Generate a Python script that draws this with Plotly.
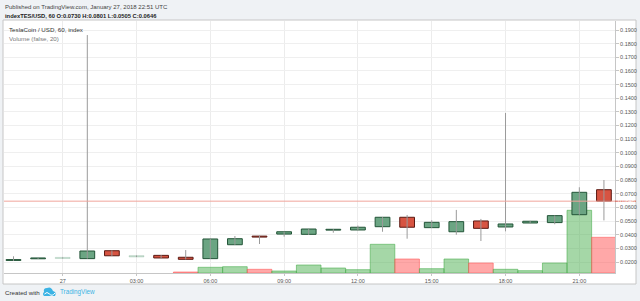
import plotly.graph_objects as go
import pandas as pd

# ---------------- data ----------------
hours = pd.date_range("2018-01-26 22:00", periods=25, freq="h")
opens  = [0.0212, 0.0224, 0.0226, 0.0225, 0.0283, 0.0237, 0.0249, 0.0235, 0.0225, 0.0327,
          0.0390, 0.0405, 0.0403, 0.0434, 0.0435, 0.0459, 0.0528, 0.0452, 0.0422, 0.0501,
          0.0457, 0.0486, 0.0489, 0.0547, 0.0730]
highs  = [0.0242, 0.0231, 0.0234, 0.1863, 0.0285, 0.0248, 0.0250, 0.0288, 0.0370, 0.0391,
          0.0392, 0.0423, 0.0443, 0.0441, 0.0467, 0.0529, 0.0545, 0.0506, 0.0582, 0.0516,
          0.1292, 0.0502, 0.0541, 0.0748, 0.0801]
lows   = [0.0208, 0.0223, 0.0226, 0.0225, 0.0245, 0.0237, 0.0229, 0.0219, 0.0224, 0.0326,
          0.0332, 0.0386, 0.0398, 0.0415, 0.0434, 0.0422, 0.0371, 0.0450, 0.0400, 0.0354,
          0.0425, 0.0485, 0.0477, 0.0546, 0.0505]
closes = [0.0218, 0.0230, 0.0234, 0.0281, 0.0246, 0.0247, 0.0230, 0.0220, 0.0369, 0.0371,
          0.0383, 0.0422, 0.0442, 0.0440, 0.0455, 0.0528, 0.0455, 0.0491, 0.0496, 0.0447,
          0.0479, 0.0499, 0.0540, 0.0711, 0.0646]
volumes = [0, 0, 0, 0, 0, 0, 0, 1000, 5700, 6300, 3700, 2000, 8000, 5000, 3300, 28700,
           14000, 4300, 14000, 10000, 3700, 2300, 10000, 62700, 35700]

tick_times = ["2018-01-27 00:00", "2018-01-27 03:00", "2018-01-27 06:00", "2018-01-27 09:00",
              "2018-01-27 12:00", "2018-01-27 15:00", "2018-01-27 18:00", "2018-01-27 21:00"]
tick_text = ["27", "03:00", "06:00", "09:00", "12:00", "15:00", "18:00", "21:00"]

title_line1 = "Published on TradingView.com, January 27, 2018 22:51 UTC"
title_line2 = "indexTES/USD, 60 O:0.0730 H:0.0801 L:0.0505 C:0.0646"
series_label = "TeslaCoin / USD, 60, index"
volume_label = "Volume (false, 20)"

# ---------------- layout constants ----------------
W, H = 640, 301
ML, MR, MT, MB = 4, 25, 21, 28
PW, PH = W - ML - MR, H - MT - MB
FADED = {2, 5}
HOUR_MS = 3600 * 1000
FONT = "Liberation Sans"

UP_FILL, UP_LINE = "#6ba583", "#225437"
DN_FILL, DN_LINE = "#d75442", "#5b1a13"


def px(x):
    return (x - ML) / PW


def py(y):
    return (H - MB - y) / PH


body_base, body_h, body_fill, body_line = [], [], [], []
for i, (o, c) in enumerate(zip(opens, closes)):
    lo, hi = min(o, c), max(o, c)
    body_base.append(lo)
    body_h.append(max(hi - lo, 0.0004))
    up = c >= o
    if i in FADED:
        body_fill.append("rgba(107,165,131,0.35)")
        body_line.append("rgba(107,165,131,0.25)")
    else:
        body_fill.append(UP_FILL if up else DN_FILL)
        body_line.append(UP_LINE if up else DN_LINE)

vol_fill, vol_line = [], []
for o, c, v in zip(opens, closes, volumes):
    up = c >= o
    vol_fill.append("rgba(76,175,80,0.5)" if up else "rgba(255,82,82,0.5)")
    if v == 0:
        vol_line.append("rgba(0,0,0,0)")
    else:
        vol_line.append("rgba(76,175,80,0.6)" if up else "rgba(255,82,82,0.55)")

wx, wy = [], []
for t, l, h in zip(hours, lows, highs):
    wx += [t, t, None]
    wy += [l, h, None]

fig = go.Figure()
fig.add_trace(go.Bar(x=hours, y=volumes, width=[HOUR_MS] * len(hours), yaxis="y",
                     marker=dict(color=vol_fill, line=dict(color=vol_line, width=1)),
                     hoverinfo="skip"))
fig.add_trace(go.Scatter(x=wx, y=wy, mode="lines", yaxis="y2",
                         line=dict(color="#9a9a9a", width=1), hoverinfo="skip"))
fig.add_trace(go.Bar(x=hours, y=body_h, base=body_base, width=[0.6 * HOUR_MS] * len(hours),
                     yaxis="y2", marker=dict(color=body_fill, line=dict(color=body_line, width=1)),
                     hoverinfo="skip"))

last = closes[-1]
shapes = [
    dict(type="rect", xref="paper", yref="paper", x0=px(3), x1=px(636), y0=py(284), y1=py(20),
         fillcolor="white", line=dict(color="#c6c6c6", width=1), layer="below"),
    dict(type="line", xref="paper", yref="y2", x0=0, x1=1, y0=last, y1=last,
         line=dict(color="#f0a59c", width=1), layer="above"),
    dict(type="rect", xref="paper", yref="y2", x0=px(615), x1=px(636),
         y0=last - 0.00036, y1=last + 0.00036, fillcolor=DN_FILL, line=dict(width=0), layer="above"),
]

# TradingView cloud logo (decorative)
def P(x, y):
    return f"{px(x):.5f},{py(y):.5f}"

cloud = ("M " + P(44, 296) + " L " + P(55, 296) + " Q " + P(57, 292) + " " + P(53, 291)
         + " Q " + P(51, 286) + " " + P(47, 288) + " Q " + P(43, 288) + " " + P(44, 292)
         + " Q " + P(42, 294) + " " + P(44, 296) + " Z")
shapes.append(dict(type="path", xref="paper", yref="paper", path=cloud,
                   fillcolor="#3bb3e4", line=dict(width=0), layer="above"))
wave = "M " + P(44.5, 294) + " Q " + P(47, 291) + " " + P(49.5, 294) + " Q " + P(52, 297) + " " + P(55, 293)
shapes.append(dict(type="path", xref="paper", yref="paper", path=wave,
                   line=dict(color="white", width=1), layer="above"))

def ann(text, x, y, size, color, **kw):
    return dict(text=text, xref="paper", yref="paper", x=px(x), y=py(y), xanchor="left",
                yanchor="middle", showarrow=False, font=dict(family=FONT, size=size, color=color), **kw)

annotations = [
    ann(title_line1, 3, 7, 6, "#444444"),
    ann("<b>" + title_line2 + "</b>", 3, 15.5, 5.8, "#222222"),
    ann(series_label, 7, 30, 6.2, "#333333"),
    ann(volume_label, 7, 39, 6.2, "#7a7a7a"),
    ann("Created with", 3, 292, 6.2, "#333333"),
    ann("TradingView", 58, 292, 6.3, "#3bb3e4"),
    dict(text=f"{last:.4f}", xref="paper", yref="y2", x=px(616), y=last, xanchor="left",
         yanchor="middle", showarrow=False, font=dict(family=FONT, size=5.5, color="white")),
]

fig.update_layout(
    width=W, height=H,
    margin=dict(l=ML, r=MR, t=MT, b=MB, pad=0),
    paper_bgcolor="#eff2f5", plot_bgcolor="white",
    showlegend=False, barmode="overlay",
    shapes=shapes, annotations=annotations,
    xaxis=dict(type="date", range=["2018-01-26 21:36:50", "2018-01-27 22:27:00"],
               tickvals=tick_times, ticktext=tick_text, showgrid=True, gridcolor="#ececec",
               showline=True, linecolor="#c6c6c6", ticks="outside", ticklen=2, tickcolor="#c6c6c6",
               tickfont=dict(family=FONT, size=5.5, color="#555555"), zeroline=False, fixedrange=True),
    yaxis=dict(range=[0, 252000], visible=False, showgrid=False, fixedrange=True),
    yaxis2=dict(overlaying="y", side="right", range=[0.01198, 0.19659], dtick=0.01, tick0=0,
                tickformat=".4f", showgrid=True, gridcolor="#efefef", showline=True,
                linecolor="#c6c6c6", ticks="outside", ticklen=3, tickcolor="#c6c6c6",
                tickfont=dict(family=FONT, size=5.5, color="#555555"), zeroline=False, fixedrange=True),
)

fig.write_html("out.html")
